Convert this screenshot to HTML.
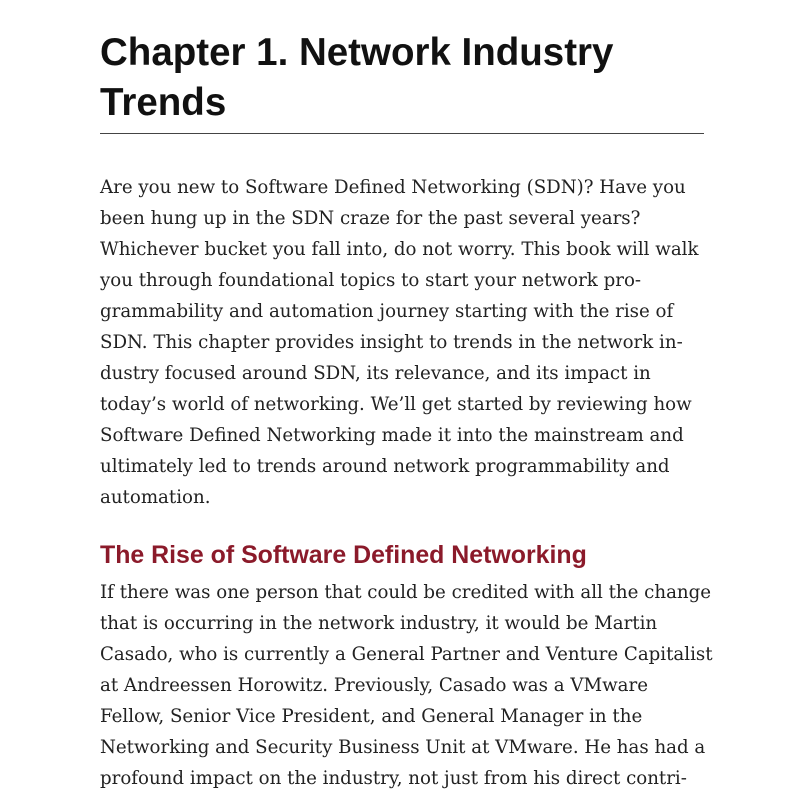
<!DOCTYPE html>
<html><head><style>
body{margin:0;width:800px;height:800px;background:#fff;overflow:hidden;position:relative}
h1{position:absolute;left:100px;top:28px;margin:0;font:bold 38.5px/50px "Liberation Sans",sans-serif;color:#111;width:640px}
.rule{position:absolute;left:100px;top:133px;width:604px;height:1px;background:#444}
.l{position:absolute;left:100px;font-family:"DejaVu Serif",serif;font-size:18.2px;color:#222;white-space:nowrap;line-height:20px}
h2{position:absolute;left:100px;top:540px;margin:0;font:bold 24.9px/30px "Liberation Sans",sans-serif;color:#8b1a2a;white-space:nowrap}
</style></head><body>
<h1>Chapter 1. Network Industry<br>Trends</h1>
<div class="rule"></div>
<div class="l" style="top:178px">Are you new to Software Defined Networking (SDN)? Have you</div>
<div class="l" style="top:209px">been hung up in the SDN craze for the past several years?</div>
<div class="l" style="top:240px">Whichever bucket you fall into, do not worry. This book will walk</div>
<div class="l" style="top:271px">you through foundational topics to start your network pro-</div>
<div class="l" style="top:302px">grammability and automation journey starting with the rise of</div>
<div class="l" style="top:333px">SDN. This chapter provides insight to trends in the network in-</div>
<div class="l" style="top:364px">dustry focused around SDN, its relevance, and its impact in</div>
<div class="l" style="top:395px">today’s world of networking. We’ll get started by reviewing how</div>
<div class="l" style="top:426px">Software Defined Networking made it into the mainstream and</div>
<div class="l" style="top:457px">ultimately led to trends around network programmability and</div>
<div class="l" style="top:488px">automation.</div>
<h2>The Rise of Software Defined Networking</h2>
<div class="l" style="top:583px">If there was one person that could be credited with all the change</div>
<div class="l" style="top:614px">that is occurring in the network industry, it would be Martin</div>
<div class="l" style="top:645px">Casado, who is currently a General Partner and Venture Capitalist</div>
<div class="l" style="top:676px">at Andreessen Horowitz. Previously, Casado was a VMware</div>
<div class="l" style="top:707px">Fellow, Senior Vice President, and General Manager in the</div>
<div class="l" style="top:738px">Networking and Security Business Unit at VMware. He has had a</div>
<div class="l" style="top:769px">profound impact on the industry, not just from his direct contri-</div>
</body></html>
